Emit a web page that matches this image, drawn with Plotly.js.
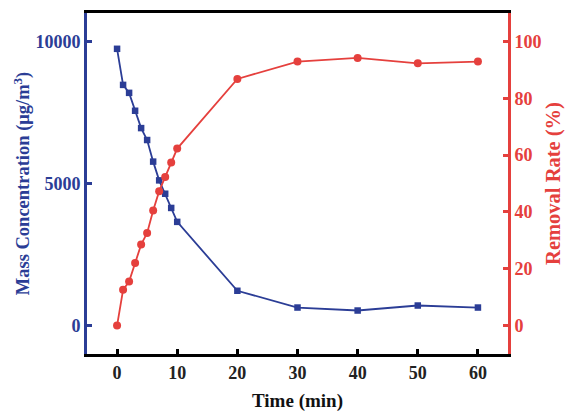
<!DOCTYPE html>
<html><head><meta charset="utf-8">
<script src="https://cdn.plot.ly/plotly-3.0.1.min.js"></script>
<style>html,body{margin:0;padding:0;background:#fff}#chart{width:565px;height:412px}</style>
</head><body><div id="chart"></div>
<script>
const time = [0,1,2,3,4,5,6,7,8,9,10,20,30,40,50,60];
const massConc = [9740,8470,8190,7560,6950,6530,5770,5110,4640,4140,3650,1225,635,530,706,635];
const removalRate = [0,12.6,15.5,22,28.5,32.6,40.5,47.3,52.3,57.4,62.3,86.8,92.9,94.2,92.3,92.9];
const xTicks = [0,10,20,30,40,50,60];
const yTicks = [0,5000,10000];
const y2Ticks = [0,20,40,60,80,100];

const BLUE = '#2b3d96';
const RED = '#e5403d';
const FAM = 'Liberation Serif, Times New Roman, serif';

const traces = [
  {x: time, y: massConc, type: 'scatter', mode: 'lines+markers', yaxis: 'y',
   line: {color: BLUE, width: 1.8}, marker: {symbol: 'square', size: 6.5, color: BLUE}},
  {x: time, y: removalRate, type: 'scatter', mode: 'lines+markers', yaxis: 'y2',
   line: {color: RED, width: 1.8}, marker: {symbol: 'circle', size: 8, color: RED}}
];

const layout = {
  width: 565, height: 412,
  margin: {l: 87, r: 57, t: 13, b: 58},
  paper_bgcolor: '#fff', plot_bgcolor: '#fff',
  showlegend: false,
  font: {family: FAM, weight: 'bold'},
  xaxis: {
    range: [-5, 65], tickvals: xTicks, ticktext: xTicks.map(String),
    showgrid: false, zeroline: false,
    showline: true, linecolor: '#000', linewidth: 3, mirror: true,
    ticks: 'inside', ticklen: 5, tickwidth: 3, tickcolor: '#000',
    tickfont: {family: FAM, size: 18, color: '#222', weight: 'bold'},
    title: {text: 'Time (min)', font: {family: FAM, size: 19, color: '#111', weight: 'bold'}, standoff: 15}
  },
  yaxis: {
    range: [-1000, 11000], tickvals: yTicks, ticktext: yTicks.map(String),
    showgrid: false, zeroline: false,
    showline: true, linecolor: BLUE, linewidth: 3,
    ticks: 'inside', ticklen: 5, tickwidth: 3, tickcolor: BLUE,
    tickfont: {family: FAM, size: 18, color: BLUE, weight: 'bold'},
    title: {text: 'Mass Concentration (μg/m<sup>3</sup>)', font: {family: FAM, size: 18.5, color: BLUE, weight: 'bold'}, standoff: 1}
  },
  yaxis2: {
    overlaying: 'y', side: 'right',
    range: [-10, 110], tickvals: y2Ticks, ticktext: y2Ticks.map(String),
    showgrid: false, zeroline: false,
    showline: true, linecolor: RED, linewidth: 3,
    ticks: 'inside', ticklen: 5, tickwidth: 3, tickcolor: RED,
    tickfont: {family: FAM, size: 18, color: RED, weight: 'bold'},
    title: {text: 'Removal Rate (%)', font: {family: FAM, size: 20.5, color: RED, weight: 'bold'}, standoff: 20}
  }
};

Plotly.newPlot('chart', traces, layout, {staticPlot: true, displayModeBar: false});
</script>
</body></html>
